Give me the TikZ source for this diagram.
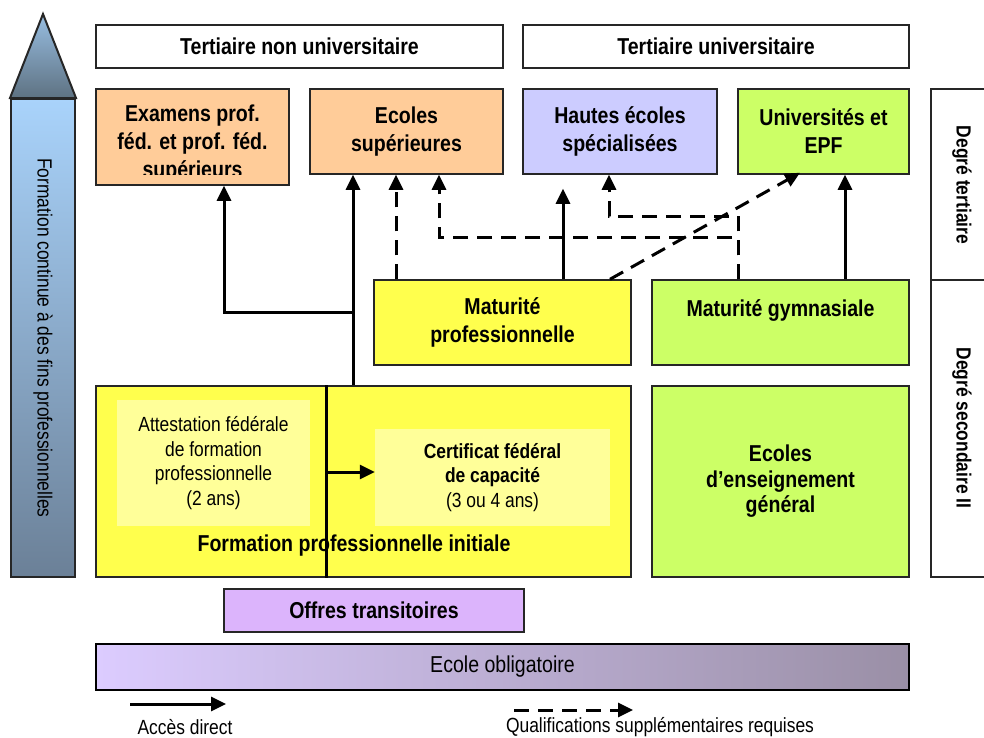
\documentclass[tikz,border=0pt]{standalone}
\usepackage{fontspec}
\setmainfont[FakeStretch=0.85]{Liberation Sans}
\usetikzlibrary{arrows.meta}
\usetikzlibrary{calc}

\definecolor{peach}{HTML}{FFCC99}
\definecolor{hesblue}{HTML}{CCCCFF}
\definecolor{unigreen}{HTML}{CCFF66}
\definecolor{matyellow}{HTML}{FFFF4D}
\definecolor{paleyellow}{HTML}{FFFF99}
\definecolor{lilac}{HTML}{DCB4FC}
\definecolor{obligleft}{HTML}{DCCCFF}
\definecolor{obligright}{HTML}{9A8FA6}
\definecolor{coltop}{HTML}{A9D3FB}
\definecolor{colbottom}{HTML}{6B8097}
\definecolor{tipbase}{HTML}{5E7282}

\newcommand{\lblfont}{\bfseries\fontsize{23}{28}\selectfont}
\newcommand{\subfont}{\fontsize{20.5}{24.5}\selectfont}
\newcommand{\legfont}{\fontsize{20.5}{24}\selectfont}

\tikzset{
	box/.style={draw=black!85, line width=1.5pt, inner sep=0pt, align=center, font=\lblfont},
	inbox/.style={fill=paleyellow, inner sep=0pt, align=center, font=\subfont},
	direct/.style={line width=3pt, ->},
	extra/.style={line width=3pt, ->, dash pattern=on 15pt off 9pt},
}

\begin{document}
\begin{tikzpicture}[x=1pt, y=-1pt, >={Triangle[length=15pt,width=14pt]}]
	\useasboundingbox (0,0) rectangle (984,737);

	% continuing education column
	\node[draw=black!85, line width=2pt, inner sep=0pt, minimum width=64pt, minimum height=478pt,
		top color=coltop, bottom color=colbottom] (column) at (43,338) {};
	\draw[line width=2pt, draw=black!85, top color=coltop!90!black, bottom color=tipbase]
		(column.north west) -- (43,14) -- (column.north east) -- cycle;
	\node[rotate=-90, font=\subfont] (columntxt) at (column) {Formation continue à des fins professionnelles};

	% headers
	\node[box, minimum width=407pt, minimum height=43pt] (tnu) at (299.5,46.5) {Tertiaire non universitaire};
	\node[box, minimum width=386pt, minimum height=43pt] (tu) at (716,46.5) {Tertiaire universitaire};

	% tertiary level
	\node[box, fill=peach, minimum width=193pt, minimum height=96pt] (examens) at (192.5,137) {};
	\begin{scope}
		\clip (96,89) rectangle (289,174);
		\node[anchor=north, inner sep=0pt, align=center, font=\lblfont] (examenstxt)
			at ([yshift=-16pt]examens.north) {Examens prof.\\féd. et prof. féd.\\supérieurs};
	\end{scope}
	\node[box, fill=peach, minimum width=193pt, minimum height=85pt] (ecolessup) at (406.5,131.5) {Ecoles\\supérieures};
	\node[box, fill=hesblue, minimum width=194pt, minimum height=85pt] (hes) at (620,131.5) {Hautes écoles\\spécialisées};
	\node[box, fill=unigreen, minimum width=171pt, minimum height=85pt] (uni) at (823.5,131.5) {Universités et\\EPF};

	% maturity
	\node[box, fill=matyellow, minimum width=257pt, minimum height=85pt] (matpro) at (502.5,322.5) {Maturité\\professionnelle};
	\node[box, fill=unigreen, minimum width=257pt, minimum height=85pt] (matgym) at (780.5,322.5) {Maturité gymnasiale\\\mbox{}};

	% secondary level II
	\node[box, fill=matyellow, minimum width=535pt, minimum height=191pt] (fpi) at (363.5,481.5) {};
	\node[inbox, minimum width=193pt, minimum height=126pt] (attest) at (213.5,463)
		{Attestation fédérale\\de formation\\professionnelle\\(2 ans)};
	\node[inbox, minimum width=235pt, minimum height=97pt] (cfc) at (492.5,477.5)
		{\bfseries Certificat fédéral\\\bfseries de capacité\\(3 ou 4 ans)};
	\node[font=\lblfont, inner sep=0pt] (fpitxt) at (354,546) {Formation professionnelle initiale};
	\node[box, fill=unigreen, minimum width=257pt, minimum height=191pt, font=\bfseries\fontsize{23}{25.5}\selectfont]
		(eeg) at (780.5,481.5) {Ecoles\\d’enseignement\\général};

	% transition and compulsory school
	\node[box, fill=lilac, minimum width=300pt, minimum height=43pt] (offres) at (374,610.5) {Offres transitoires};
	\node[box, draw=black, line width=2pt, minimum width=813pt, minimum height=46pt, font=\fontsize{23}{28}\selectfont,
		left color=obligleft, right color=obligright] (oblig) at (502.5,667) {Ecole obligatoire};

	% level labels on the right
	\draw[line width=1.5pt, draw=black!85] (984,89) -- (931,89) -- (931,577) -- (984,577);
	\draw[line width=1.5pt, draw=black!85] (931,280) -- (984,280);
	\node[rotate=-90, font=\bfseries\subfont] (degter) at (962,185) {Degré tertiaire};
	\node[rotate=-90, font=\bfseries\subfont] (degsec) at (962,428) {Degré secondaire II};

	% split inside the initial vocational training
	\coordinate (divtop) at ([xshift=-37.5pt]fpi.north);
	\draw[line width=3pt] (divtop) -- ([xshift=-37.5pt]fpi.south);
	\coordinate (split) at (326,472);
	\draw[direct] (split) -- (split -| cfc.west);

	% direct access
	\coordinate (trunk) at ([xshift=-10.5pt]fpi.north);
	\coordinate (fork) at (353,312);
	\draw[direct] (trunk) -- (trunk |- ecolessup.south);
	\draw[direct] (fork) -| ([xshift=31.5pt]examens.south);
	\draw[direct, shorten >=14pt] ([xshift=60.5pt]matpro.north) -- ([xshift=-57pt]hes.south);
	\draw[direct] ([xshift=64.5pt]matgym.north) -- ([xshift=21.5pt]uni.south);

	% additional qualifications required
	\draw[extra] ([xshift=-106.5pt]matpro.north) -- ([xshift=-10.5pt]ecolessup.south);
	\draw[extra] ([xshift=-42.5pt]matgym.north) -- ++(0,-42) -| ([xshift=32.5pt]ecolessup.south);
	\draw[extra] ([xshift=-42.5pt]matgym.north) -- ++(0,-63) -| ([xshift=-11pt]hes.south);
	\draw[extra] ([xshift=107.5pt]matpro.north) -- ([xshift=-23.5pt,yshift=2pt]uni.south);

	% legend
	\coordinate (legdirA) at (130,704);
	\coordinate (legdirB) at (226,704);
	\coordinate (legextA) at (514,710);
	\coordinate (legextB) at (633,710);
	\draw[direct] (legdirA) -- (legdirB);
	\draw[extra] (legextA) -- (legextB);
	\node[font=\legfont, inner sep=0pt] (legdir) at (185,727) {Accès direct};
	\node[font=\legfont, inner sep=0pt] (legext) at (660,727) {Qualifications supplémentaires requises};
\end{tikzpicture}
\end{document}
